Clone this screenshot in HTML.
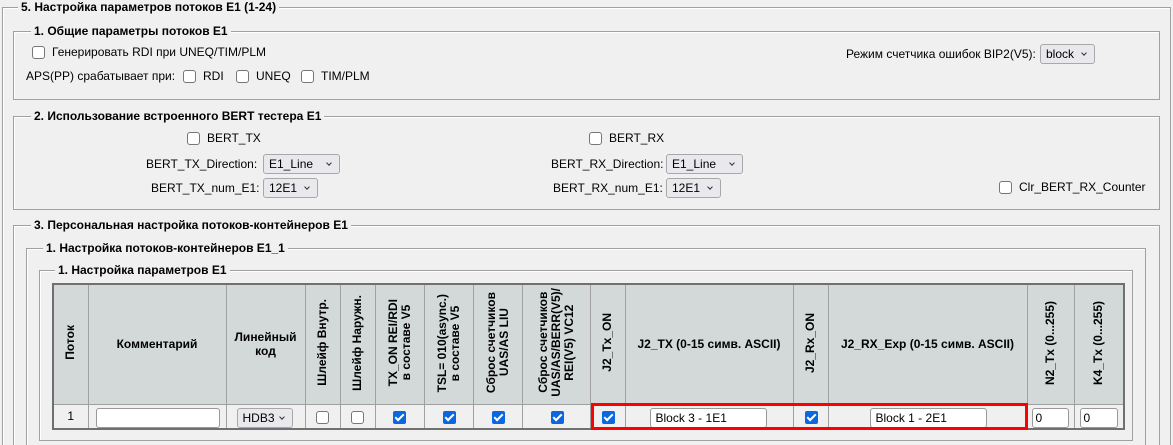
<!DOCTYPE html>
<html><head><meta charset="utf-8"><style>
*{box-sizing:border-box;margin:0;padding:0}
html,body{width:1173px;height:445px;overflow:hidden}
body{background:#f0f0f0;font-family:"Liberation Sans",Arial,sans-serif;font-size:12px;color:#000;position:relative}
.fs{position:absolute;border:1px solid #a0a0a0;box-shadow:1px 1px 0 #fff inset}
.ob{border-bottom:none}
.lg{position:absolute;background:#f0f0f0;font-weight:bold;padding:0 3px;top:-8px;line-height:14px;white-space:nowrap}
.t{position:absolute;white-space:nowrap;line-height:14px}
.cb{position:absolute;width:13px;height:13px;border:1px solid #767676;border-radius:3px;background:#fff}
.ck{position:absolute;width:13px;height:13px;border-radius:2px;background:#0b67e0}
.ck:after{content:"";position:absolute;left:4px;top:1px;width:3px;height:7px;border:solid #fff;border-width:0 2px 2px 0;transform:rotate(45deg)}
.sel{position:absolute;height:20px;border:1px solid #a8a8a8;border-radius:3px;background:#e9e9ed;padding-left:5px;line-height:18px;font-size:12px;text-align:left;white-space:nowrap}
.sel:after{content:"";position:absolute;right:8px;top:6px;width:3px;height:3px;border:solid #333;border-width:0 1px 1px 0;transform:rotate(45deg)}
.inp{position:absolute;height:20px;border:1px solid #999;border-radius:3px;background:#fff;padding-left:5px;line-height:18px;text-align:left;white-space:nowrap}
table{position:absolute;left:52px;top:283px;border-collapse:collapse;border:2px solid #707070;table-layout:fixed;width:1071px}
td,th{border:1px solid #a0a0a0;padding:0;text-align:center;vertical-align:middle;position:relative}
th{background:#d3d9d9;font-weight:bold;font-size:12px;height:120px}
td{height:25px;background:#f0f0f0}
.v{writing-mode:vertical-rl;transform:rotate(180deg);display:inline-block;line-height:13px}
</style></head><body>
<div class="fs ob" style="left:2px;top:7px;width:1169px;height:438px"><div class="lg" style="left:15px">5. Настройка параметров потоков E1 (1-24)</div></div>
<div class="fs" style="left:13px;top:31px;width:1147px;height:69px"><div class="lg" style="left:17px">1. Общие параметры потоков E1</div></div>
<div class="cb" style="left:32px;top:46px"></div><div class="t" style="left:52px;top:45px">Генерировать RDI при UNEQ/TIM/PLM</div>
<div class="t" style="left:26px;top:69px">APS(PP) срабатывает при:</div>
<div class="cb" style="left:183px;top:70px"></div><div class="t" style="left:203px;top:69px">RDI</div>
<div class="cb" style="left:236px;top:70px"></div><div class="t" style="left:256px;top:69px">UNEQ</div>
<div class="cb" style="left:301px;top:70px"></div><div class="t" style="left:321px;top:69px">TIM/PLM</div>
<div class="t" style="left:846px;top:47px">Режим счетчика ошибок BIP2(V5):</div>
<div class="sel" style="left:1040px;top:44px;width:55px">block</div>

<div class="fs" style="left:13px;top:116px;width:1147px;height:94px"><div class="lg" style="left:17px">2. Использование встроенного BERT тестера E1</div></div>
<div class="cb" style="left:187px;top:132px"></div><div class="t" style="left:207px;top:131px">BERT_TX</div>
<div class="cb" style="left:589px;top:132px"></div><div class="t" style="left:609px;top:131px">BERT_RX</div>
<div class="t" style="left:146px;top:157px">BERT_TX_Direction:</div><div class="sel" style="left:263px;top:154px;width:77px">E1_Line</div>
<div class="t" style="left:151px;top:181px">BERT_TX_num_E1:</div><div class="sel" style="left:263px;top:178px;width:55px">12E1</div>
<div class="t" style="left:551px;top:157px">BERT_RX_Direction:</div><div class="sel" style="left:666px;top:154px;width:77px">E1_Line</div>
<div class="t" style="left:553px;top:181px">BERT_RX_num_E1:</div><div class="sel" style="left:666px;top:178px;width:55px">12E1</div>
<div class="cb" style="left:999px;top:181px"></div><div class="t" style="left:1019px;top:180px">Clr_BERT_RX_Counter</div>

<div class="fs ob" style="left:13px;top:225px;width:1147px;height:220px"><div class="lg" style="left:17px">3. Персональная настройка потоков-контейнеров E1</div></div>
<div class="fs ob" style="left:26px;top:248px;width:1120px;height:197px"><div class="lg" style="left:16px">1. Настройка потоков-контейнеров E1_1</div></div>
<div class="fs" style="left:39px;top:270px;width:1094px;height:171px"><div class="lg" style="left:15px">1. Настройка параметров E1</div></div>

<table>
<colgroup><col style="width:35px"><col style="width:138px"><col style="width:79px"><col style="width:35px"><col style="width:35px"><col style="width:49px"><col style="width:49px"><col style="width:49px"><col style="width:68px"><col style="width:35px"><col style="width:168px"><col style="width:35px"><col style="width:199px"><col style="width:47px"><col style="width:50px"></colgroup>
<tr>
<th><span class="v">Поток</span></th>
<th>Комментарий</th>
<th>Линейный<br>код</th>
<th><span class="v">Шлейф Внутр.</span></th>
<th><span class="v">Шлейф Наружн.</span></th>
<th><span class="v">TX_ON REI/RDI<br>в составе V5</span></th>
<th><span class="v">TSL= 010(async.)<br>в составе V5</span></th>
<th><span class="v">Сброс счетчиков<br>UAS/AS LIU</span></th>
<th><span class="v">Сброс счетчиков<br>UAS/AS/BERR(V5)/<br>REI(V5) VC12</span></th>
<th><span class="v">J2_Tx_ON</span></th>
<th>J2_TX (0-15 симв. ASCII)</th>
<th><span class="v">J2_Rx_ON</span></th>
<th>J2_RX_Exp (0-15 симв. ASCII)</th>
<th><span class="v">N2_Tx (0...255)</span></th>
<th><span class="v">K4_Tx (0...255)</span></th>
</tr>
<tr>
<td>1</td>
<td><div class="inp" style="left:7px;top:3px;width:124px"></div></td>
<td><div class="sel" style="left:10px;top:3px;width:56px">HDB3</div></td>
<td><div class="cb" style="left:10px;top:6px"></div></td>
<td><div class="cb" style="left:10px;top:6px"></div></td>
<td><div class="ck" style="left:17px;top:6px"></div></td>
<td><div class="ck" style="left:18px;top:6px"></div></td>
<td><div class="ck" style="left:18px;top:6px"></div></td>
<td><div class="ck" style="left:28px;top:6px"></div></td>
<td><div class="ck" style="left:11px;top:6px"></div></td>
<td><div class="inp" style="left:24px;top:3px;width:117px">Block 3 - 1E1</div></td>
<td><div class="ck" style="left:11px;top:6px"></div></td>
<td><div class="inp" style="left:41px;top:3px;width:117px">Block 1 - 2E1</div></td>
<td><div class="inp" style="left:4px;top:3px;width:37px;padding-left:3px">0</div></td>
<td><div class="inp" style="left:5px;top:3px;width:38px;padding-left:3px">0</div></td>
</tr>
</table>
<div style="position:absolute;left:591px;top:403px;width:437px;height:27px;border:3px solid #f00"></div>
</body></html>
